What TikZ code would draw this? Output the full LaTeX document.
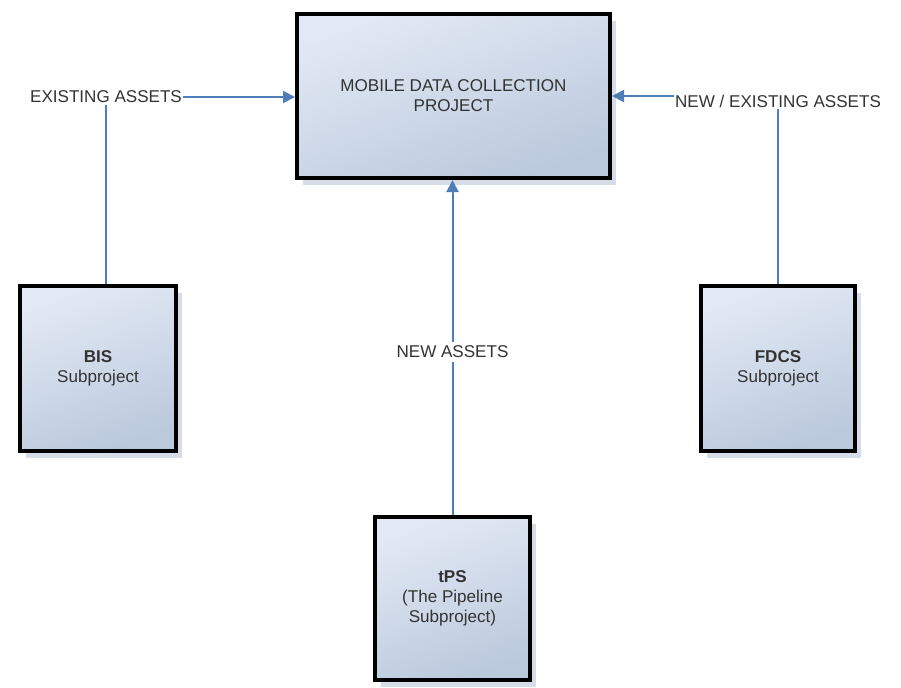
\documentclass[tikz,border=0pt]{standalone}
\usepackage{fontspec}
\setmainfont{Liberation Sans}
\usetikzlibrary{shadows,arrows.meta}
\definecolor{boxtop}{HTML}{E2E9F4}
\definecolor{boxbot}{HTML}{BBC9DD}
\definecolor{shadowc}{HTML}{D6DDE8}
\definecolor{linec}{HTML}{4F7DBA}
\definecolor{txtc}{HTML}{333333}
\tikzset{
  px/.style={x=0.75pt,y=-0.75pt},
  projbox/.style={draw=black, line width=3pt, top color=boxtop, bottom color=boxbot,
    shading angle=20, align=center, text=txtc, font=\fontsize{12.8}{15}\selectfont,
    drop shadow={shadow xshift=4.5pt, shadow yshift=-5pt, fill=shadowc, opacity=1}},
  lbl/.style={text=txtc, font=\fontsize{12.8}{15}\selectfont, inner sep=1pt},
  conn/.style={draw=linec, line width=1.5pt},
  arr/.style={conn, -{Triangle[length=9pt,width=9pt]}}
}
\begin{document}
\begin{tikzpicture}[px]
\useasboundingbox (0,0) rectangle (901,687);
\node[projbox, minimum width=313*0.75pt, minimum height=164*0.75pt] (main) at (453.5,96)
  {MOBILE DATA COLLECTION\\PROJECT};
\node[projbox, minimum width=156*0.75pt, minimum height=165*0.75pt] (bis) at (98,368.5)
  {\textbf{BIS}\\Subproject};
\node[projbox, minimum width=154*0.75pt, minimum height=165*0.75pt] (fdcs) at (778,368.5)
  {\textbf{FDCS}\\Subproject};
\node[projbox, minimum width=155*0.75pt, minimum height=163*0.75pt] (tps) at (452.5,598.5)
  {\textbf{tPS}\\(The Pipeline\\Subproject)};
\node[lbl] (ex) at (106,97) {EXISTING ASSETS};
\node[lbl] (nex) at (778,101) {NEW / EXISTING ASSETS};
\coordinate (tpsmid) at (452.5,352);
\draw[conn] (bis.north -| ex.south) -- (ex.south);
\draw[conn] (fdcs.north) -- (nex.south -| fdcs.north);
\draw[arr] (ex.east) -- (ex.east -| main.west);
\draw[arr] (nex.west |- main.east) -- (main.east);
\draw[arr] (tps.north) -- (tps.north |- main.south);
\node[lbl, fill=white, inner sep=3pt] (new) at (tpsmid) {NEW ASSETS};
\end{tikzpicture}
\end{document}
